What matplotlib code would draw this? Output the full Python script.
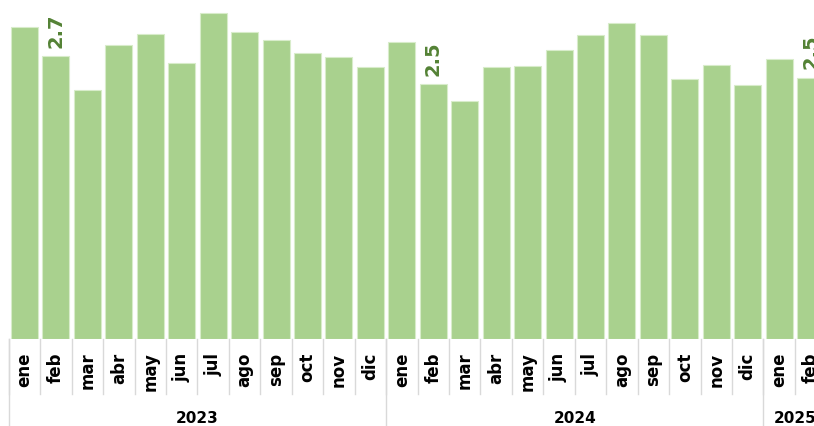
import matplotlib.pyplot as plt
import numpy as np
from matplotlib import transforms

months = ["ene", "feb", "mar", "abr", "may", "jun", "jul", "ago", "sep", "oct", "nov", "dic",
          "ene", "feb", "mar", "abr", "may", "jun", "jul", "ago", "sep", "oct", "nov", "dic",
          "ene", "feb"]
years = ["2023", "2024", "2025"]
year_counts = [12, 12, 2]

values = [3.01, 2.73, 2.41, 2.84, 2.95, 2.67, 3.15, 2.97, 2.89, 2.76, 2.72, 2.63,
          2.87, 2.46, 2.30, 2.63, 2.64, 2.79, 2.94, 3.05, 2.94, 2.51, 2.65, 2.45,
          2.71, 2.52]
labelled = [1, 13, 25]

bar_color = "#a9d18e"
label_color = "#548235"
sep_color = "#d9d9d9"

fig = plt.figure(figsize=(8.14, 4.27), dpi=100)
ax = fig.add_axes([0.0108, 0.2037, 1.0043, 0.7963])

x = np.arange(len(values))
ax.bar(x, values, width=0.86, color=bar_color, edgecolor="#d8ecca", linewidth=0.8)

for i in labelled:
    ax.annotate(f"{values[i]:.1f}", (x[i], values[i]), xytext=(0, 7),
                textcoords="offset points", rotation=90, ha="center", va="bottom",
                fontsize=14, fontweight="bold", color=label_color)

ax.set_xlim(-0.5, len(values) - 0.5)
ax.set_ylim(0, 340 / 103.5)
ax.set_xticks(x)
ax.set_xticklabels(months, rotation=90, fontsize=12, fontweight="bold", va="top")
ax.tick_params(axis="x", length=0, pad=9)
ax.set_yticks([])
for s in ax.spines.values():
    s.set_visible(False)

trans = transforms.blended_transform_factory(ax.transData, ax.transAxes)

# month separators
for k in range(len(values) + 1):
    ax.plot([k - 0.5, k - 0.5], [0, -0.162], transform=trans, color=sep_color,
            lw=1, clip_on=False)

# year separators and labels
start = 0
for yr, n in zip(years, year_counts):
    ax.plot([start - 0.5, start - 0.5], [0, -0.3], transform=trans, color=sep_color,
            lw=1, clip_on=False)
    ax.text(start + (n - 1) / 2, -0.232, yr, transform=trans, ha="center", va="center",
            fontsize=11, fontweight="bold", color="black")
    start += n

fig.savefig("out.png", dpi=100)
